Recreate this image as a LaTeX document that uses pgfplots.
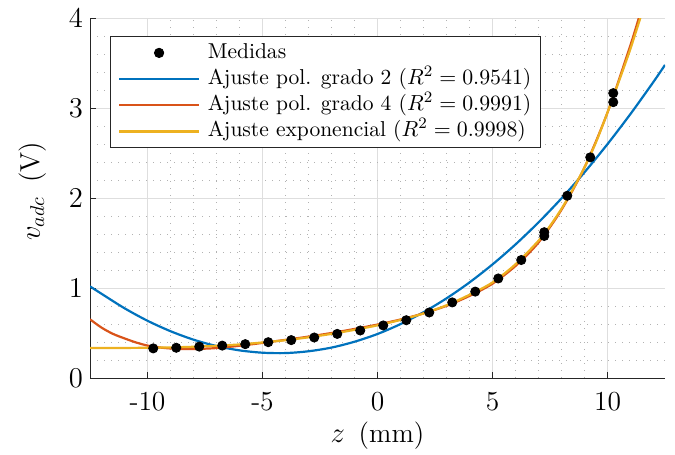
\documentclass[border=0pt]{standalone}
\usepackage{pgfplots}
\pgfplotsset{compat=1.18}

\definecolor{mblue}{rgb}{0,0.447,0.741}
\definecolor{morange}{rgb}{0.85,0.325,0.098}
\definecolor{myellow}{rgb}{0.929,0.694,0.125}

\begin{document}
\begin{tikzpicture}
\begin{axis}[
    name=ax,
    scale only axis,
    width=287.5bp, height=180bp,
    xmin=-12.5, xmax=12.5,
    ymin=0, ymax=4,
    axis lines=left,
    axis line style={-, draw=black!85, line width=0.5bp},
    xtick={-10,-5,0,5,10},
    xticklabels={-10,-5,0,5,10},
    ytick={0,1,2,3,4},
    minor x tick num=4,
    minor y tick num=4,
    tick align=inside,
    major tick length=3bp,
    minor tick length=0bp,
    tick style={draw=black!85, line width=0.5bp},
    grid=both,
    major grid style={draw=black!13, line width=0.5bp},
    minor grid style={draw=black!30, line width=0.5bp, dash pattern=on 0.5bp off 3bp},
    ticklabel style={font=\fontsize{13.8}{16}\selectfont},
    xticklabel style={yshift=-3.7bp},
    label style={font=\fontsize{13.75}{16}\selectfont},
    xlabel={$z$\hspace{0.5em}(mm)},
    ylabel={$v_{adc}$\hspace{0.5em}(V)},
    xlabel style={at={([yshift=-28.8bp]axis description cs:0.5,0)}, anchor=center},
    ylabel style={at={([xshift=-28.5bp,yshift=3.3bp]axis description cs:0,0.5)}, anchor=center},
    legend style={
        at={(rel axis cs:0,1)}, anchor=north west,
        xshift=9.75bp, yshift=-9bp,
        draw=black!85, line width=0.5bp,
        font=\fontsize{10.8}{13}\selectfont,
        inner xsep=4bp, inner ysep=2.3bp,
        row sep=1.3bp, column sep=3.3bp,
        nodes={inner sep=0.5bp, text height=8.1bp, text depth=2.7bp},
        cells={anchor=west},
    },
    legend cell align=left,
    legend image code/.code={
        \draw[mark repeat=2, mark phase=2, #1]
            plot coordinates {(0bp,0bp) (20bp,0bp) (40bp,0bp)};
    },
]

\addplot[only marks, mark=*, mark size=2.3bp, black]
coordinates {
(-9.75,0.329) (-8.75,0.336) (-7.75,0.349) (-6.75,0.360) (-5.75,0.376)
(-4.75,0.398) (-3.75,0.421) (-2.75,0.450) (-1.75,0.490) (-0.75,0.528)
(0.25,0.584) (1.25,0.642) (2.25,0.728) (3.25,0.840) (4.25,0.960)
(5.25,1.106) (6.25,1.311) (7.25,1.578) (7.25,1.620) (8.25,2.025)
(9.25,2.452) (10.25,3.065) (10.25,3.165)
};
\addlegendentry{Medidas}

\addplot[mblue, line width=1.1bp, smooth]
coordinates {
(-12.5,1.018) (-12,0.936) (-11,0.775) (-10,0.636) (-9,0.520) (-8,0.426)
(-7,0.355) (-6,0.307) (-5,0.281) (-4,0.277) (-3,0.297) (-2,0.338)
(-1,0.403) (0,0.489) (1,0.599) (2,0.731) (3,0.885) (4,1.062)
(5,1.262) (6,1.484) (7,1.729) (8,1.996) (9,2.286) (10,2.599)
(11,2.934) (12,3.291) (12.5,3.479)
};
\addlegendentry{Ajuste pol. grado 2 ($R^2 = 0.9541$)}

\addplot[morange, line width=1.1bp, smooth]
coordinates {
(-12.5,0.652) (-12,0.560) (-11.5,0.490) (-11,0.440) (-10.5,0.395)
(-10,0.360) (-9.5,0.340) (-9,0.328) (-8.5,0.322) (-8,0.322)
(-7.5,0.326) (-7,0.333) (-6,0.358) (-5,0.390) (-4,0.424) (-3,0.460)
(-2,0.500) (-1,0.545) (0,0.594) (1,0.650) (2,0.718) (3,0.802)
(4,0.912) (5,1.048) (6,1.245) (7,1.505) (8,1.870) (9,2.340)
(10,2.950) (11,3.700) (11.5,4.120)
};
\addlegendentry{Ajuste pol. grado 4 ($R^2 = 0.9991$)}

\addplot[myellow, line width=1.1bp, smooth]
coordinates {
(-12.5,0.333) (-12,0.333) (-11,0.334) (-10,0.336) (-9,0.340) (-8,0.347)
(-7,0.358) (-6,0.373) (-5,0.395) (-4,0.420) (-3,0.452) (-2,0.490)
(-1,0.535) (0,0.585) (1,0.645) (2,0.717) (3,0.808) (4,0.925)
(5,1.062) (6,1.264) (7,1.525) (7.5,1.690) (8,1.880) (8.5,2.100)
(9,2.340) (9.5,2.620) (10,2.950) (10.5,3.300) (11,3.660) (11.5,4.060)
};
\addlegendentry{Ajuste exponencial ($R^2 = 0.9998$)}

\end{axis}
\pgfresetboundingbox
\path ([shift={(-45bp,-38.5bp)}]ax.south west) rectangle ([shift={(5bp,9bp)}]ax.north east);
\end{tikzpicture}
\end{document}
